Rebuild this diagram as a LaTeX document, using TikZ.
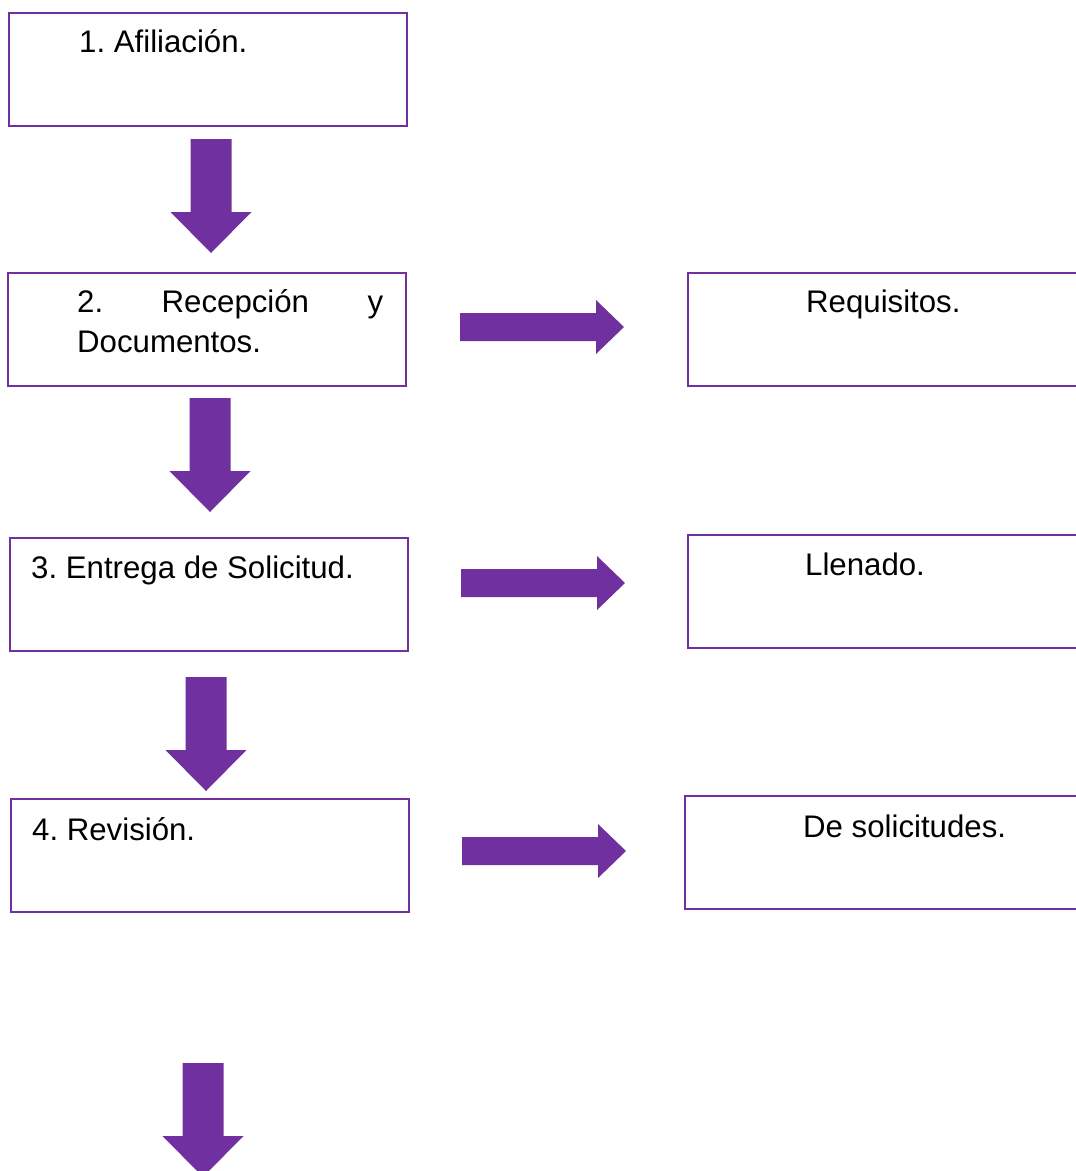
\documentclass[tikz,border=0pt]{standalone}
\usepackage{fontspec}
\setmainfont{Liberation Sans}
\frenchspacing
\definecolor{violeta}{HTML}{7030A0}

% thick block arrow pointing down: centre x, top y
\newcommand\downblock[2]{%
  \fill[violeta] (#1-20.5,#2) -- (#1+20.5,#2) -- (#1+20.5,#2+73)
    -- (#1+40.5,#2+73) -- (#1,#2+114) -- (#1-40.5,#2+73)
    -- (#1-20.5,#2+73) -- cycle;}
% thick block arrow pointing right: left x, centre y
\newcommand\rightblock[2]{%
  \fill[violeta] (#1,#2-14) -- (#1+136,#2-14) -- (#1+136,#2-27)
    -- (#1+164,#2) -- (#1+136,#2+27) -- (#1+136,#2+14)
    -- (#1,#2+14) -- cycle;}

\begin{document}
\begin{tikzpicture}[x=1pt,y=-1pt,
  stepbox/.style={draw=violeta, line width=2pt, rectangle, inner sep=0pt,
    anchor=north west, minimum width=398pt, minimum height=113pt},
  sidebox/.style={draw=violeta, line width=2pt, rectangle, inner sep=0pt,
    anchor=north west, minimum width=420pt, minimum height=113pt},
  boxtext/.style={anchor=base west, inner sep=0pt,
    font=\fontsize{31.2}{40}\selectfont}]
\useasboundingbox (0,0) rectangle (1076,1171);
\clip (0,0) rectangle (1076,1171);

% main steps
\node[stepbox] (b1) at (8,12) {};
\node[stepbox] (b2) at (7,272) {};
\node[stepbox] (b3) at (9,537) {};
\node[stepbox] (b4) at (10,798) {};

% side boxes (run past the right edge)
\node[sidebox] (r1) at (687,272) {};
\node[sidebox] (r2) at (687,534) {};
\node[sidebox] (r3) at (684,795) {};

% texts
\node[boxtext] (t1) at (79,52) {1. Afiliación.};
\node[boxtext, anchor=north west] (t2) at (77,289)
  {\parbox[t]{306pt}{\fontsize{31.2}{40}\selectfont 2. Recepción y\linebreak Documentos.}};
\node[boxtext] (t3) at (31,578) {3. Entrega de Solicitud.};
\node[boxtext] (t4) at (32,840) {4. Revisión.};
\node[boxtext] (s1) at (806,312) {Requisitos.};
\node[boxtext] (s2) at (805,575) {Llenado.};
\node[boxtext] (s3) at (803,837) {De solicitudes.};

% arrows down between the steps
\downblock{211}{139}
\downblock{210}{398}
\downblock{206}{677}
\downblock{203}{1063}

% arrows to the side boxes
\rightblock{460}{327}
\rightblock{461}{583}
\rightblock{462}{851}
\end{tikzpicture}
\end{document}
